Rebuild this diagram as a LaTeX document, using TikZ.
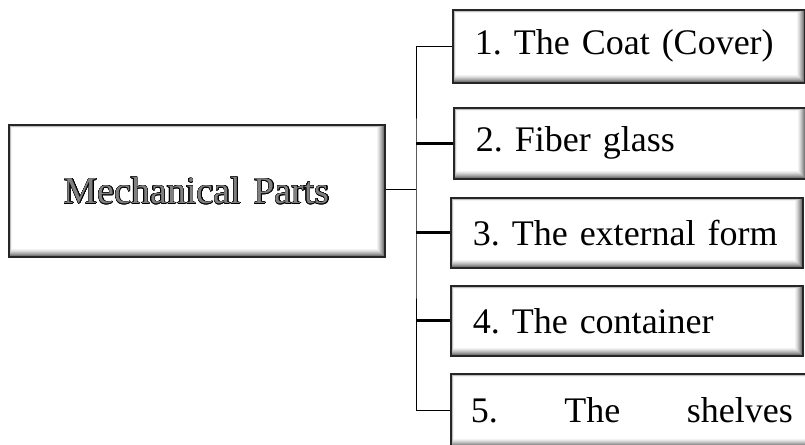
\documentclass[tikz,border=0pt]{standalone}
\usepackage{fontspec}
\setmainfont{Liberation Serif}
\usepackage[copies]{contour}
\contourlength{0.5pt}
\contournumber{24}
\frenchspacing

\tikzset{
    bevelbox/.style={rectangle, anchor=north west, draw=black!85, line width=1.6pt,
        fill=white, inner ysep=0pt, align=left,
        font=\fontsize{36}{40}\selectfont,
        path picture={
            \foreach \k/\c in {0/62,1/52,2/42,3/33,4/25,5/17,6/10,7/5,8/0}{
                \fill[black!\c] ([xshift=0.375*\k*1pt,yshift=\k*1pt]path picture bounding box.south west)
                    rectangle ([xshift=-\k*1pt,yshift=-0.375*\k*1pt]path picture bounding box.north east);
            }
        }},
    partbox/.style={bevelbox, text width=308pt, inner xsep=22pt},
    link/.style={draw=black, line width=0.9pt},
    thicklink/.style={draw=black, line width=3pt}
}

\begin{document}
\begin{tikzpicture}[x=1pt, y=-1pt]
    \useasboundingbox (0,0) rectangle (805,444);

    % main block
    \node[bevelbox, text width=376pt, inner xsep=0pt, minimum height=132pt, align=center,
        font=\fontsize{38}{40}\selectfont] (main) at (8,124)
        {{\color{black!50}\contour{black}{Mechanical Parts}}};

    % parts
    \node[partbox, minimum height=73pt] (b1) at (452,9) {1. The Coat (Cover)};
    \node[partbox, minimum height=71pt] (b2) at (453,107) {2. Fiber glass};
    \node[partbox, minimum height=70pt] (b3) at (450,197) {3. The external form};
    \node[partbox, minimum height=70pt] (b4) at (450,285) {4. The container};
    \node[bevelbox, text width=322pt, inner xsep=20pt, minimum height=73pt] (b5) at (450,373)
        {5.\hfill The\hfill shelves};

    % connectors
    \coordinate (jn) at (416,189);
    \draw[link] (main.east |- jn) -- (jn);
    \draw[link] (b1.west) -| (jn) |- (b5.west);
    \draw[thicklink] (b2.west) -- (b2.west -| jn);
    \draw[thicklink] (b3.west) -- (b3.west -| jn);
    \draw[thicklink] (b4.west) -- (b4.west -| jn);
\end{tikzpicture}
\end{document}
